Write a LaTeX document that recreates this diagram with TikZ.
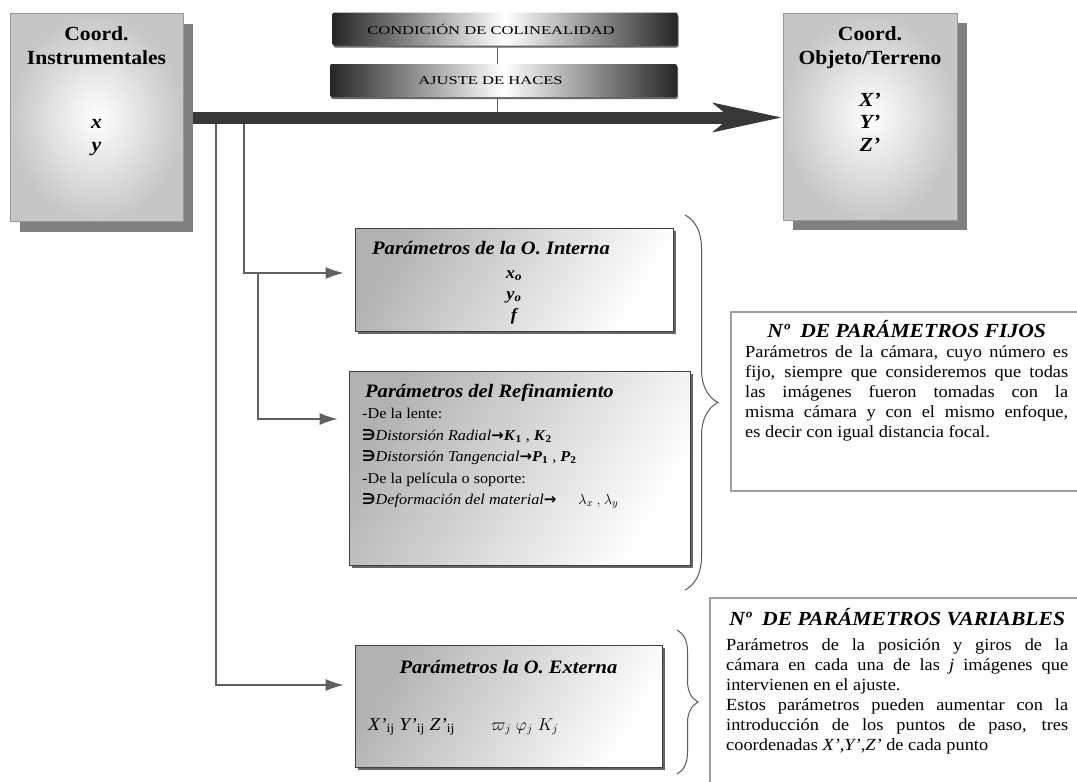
\documentclass[tikz,border=0pt]{standalone}
\usepackage{fontspec}
\setmainfont{Liberation Serif}[FakeStretch=1.08]
\newfontfamily\bannerfont{Liberation Serif}[FakeStretch=1.38]
\newfontfamily\symfont{DejaVu Sans}
\usetikzlibrary{arrows.meta,shadows,decorations.pathreplacing,positioning}
\newcommand{\hookmark}{{\symfont\bfseries ∋}}
\newcommand{\toarrow}{{\symfont\bfseries →}}
\tikzset{
  coordbox/.style={draw=gray!80, line width=0.8pt, inner color=white, outer color=gray!45,
    minimum width=173pt, minimum height=208pt,
    drop shadow={shadow xshift=10pt, shadow yshift=-10pt, fill=black!50, opacity=1}},
  banner/.style={rounded corners=2pt, left color=black!85, right color=black!85, middle color=white,
    minimum width=345pt, minimum height=33pt, inner sep=0pt, font=\bannerfont\fontsize{12}{14}\selectfont,
    drop shadow={shadow xshift=1pt, shadow yshift=-2pt, fill=black!60, opacity=1}},
  parambox/.style={draw=gray!50!black, line width=0.8pt, left color=gray!60, right color=white, shading angle=60,
    drop shadow={shadow xshift=3pt, shadow yshift=-3pt, fill=black!60, opacity=1}},
  notebox/.style={draw=gray!75, line width=1.6pt, fill=white, anchor=north west},
  branch/.style={draw=gray!75!black, line width=1.3pt, shorten >=11pt, -{Latex[length=18pt,width=12pt]}},
  thinline/.style={draw=gray!75!black, line width=1pt},
  mainarrow/.style={draw=black!78, line width=12pt, shorten <=10pt, -{Stealth[length=68pt,width=28pt,inset=16pt]}},
  curly/.style={draw=gray!70!black, line width=1pt, decorate, decoration={brace, amplitude=#1}},
  boxtitle/.style={font=\fontsize{20}{24.5}\selectfont\bfseries, align=center, anchor=north, inner sep=0pt},
  boxvar/.style={font=\fontsize{20}{23}\selectfont\bfseries\itshape, align=center, inner sep=0pt},
  partitle/.style={font=\fontsize{19}{22}\selectfont\bfseries\itshape, inner sep=0pt},
  notetext/.style={anchor=north west, inner sep=0pt, align=justify, font=\fontsize{17}{20}\selectfont}
}
\begin{document}
\begin{tikzpicture}[x=1pt, y=-1pt, >=latex]
    \useasboundingbox (0,0) rectangle (1077,782);
    \clip (0,0) rectangle (1077,782);

    \node[coordbox] (instr) at (96.5,117.5) {};
    \node[coordbox, minimum width=174pt, minimum height=207pt] (obj) at (870,116.5) {};
    \node[banner] (cond) at (505,29) {CONDICIÓN DE COLINEALIDAD\hspace*{28pt}};
    \node[banner, minimum width=347pt] (ajuste) at (503.5,80.5) {AJUSTE DE HACES\hspace*{26pt}};

    \node[parambox, minimum width=318pt, minimum height=103pt] (interna) at (514,279.5) {};
    \node[parambox, minimum width=341pt, minimum height=194pt] (refin) at (519.5,468) {};
    \node[parambox, minimum width=307pt, minimum height=122pt] (externa) at (508.5,706) {};

    \node[notebox, minimum width=360pt, minimum height=179pt] (fijosbox) at (730,311) {};
    \node[notebox, minimum width=380pt, minimum height=200pt] (varbox) at (709,597) {};

    \node[boxtitle] (instrtitle) at (96.5,26) {Coord.\\Instrumentales};
    \node[boxvar] (instrvar) at (96.5,138) {x\\y};
    \node[boxtitle] (objtitle) at (870,26) {Coord.\\Objeto/Terreno};
    \node[boxvar, font=\fontsize{20}{22.5}\selectfont\bfseries\itshape] (objvar) at (870,122) {X’\\Y’\\Z’};

    \node[partitle, anchor=north west] (internatitle) at (372,241) {Parámetros de la O. Interna};
    \node[font=\fontsize{17}{21}\selectfont\bfseries\itshape, align=center, inner sep=0pt] (internavar) at (514,297)
        {x\textsubscript{o}\\y\textsubscript{o}\\f};

    \node[partitle, anchor=north west] (refintitle) at (365,384) {Parámetros del Refinamiento};
    \node[font=\fontsize{15}{21.5}\selectfont, align=left, anchor=north west, inner sep=0pt] (refinbody) at (362,408)
        {-De la lente:\\
         \hookmark\textit{Distorsión Radial}\toarrow\textbf{\textit{K}\textsubscript{1}} , \textbf{\textit{K}\textsubscript{2}}\\
         \hookmark\textit{Distorsión Tangencial}\toarrow\textbf{\textit{P}\textsubscript{1}} , \textbf{\textit{P}\textsubscript{2}}\\
         -De la película o soporte:\\
         \hookmark\textit{Deformación del material}\toarrow\hspace{22pt}$\lambda_x \mathbin{,} \lambda_y$};

    \node[partitle] (externatitle) at (508.5,667) {Parámetros la O. Externa};
    \node[font=\fontsize{18}{22}\selectfont, anchor=west, inner sep=0pt] (externavar) at (368,727)
        {\textit{X’}\textsubscript{ij} \textit{Y’}\textsubscript{ij} \textit{Z’}\textsubscript{ij}\hspace{36pt}$\varpi_j\;\varphi_j\;K_j$};

    \node[notetext, text width=323pt] (fijos) at (745,320)
        {{\fontsize{20}{24}\selectfont\bfseries\itshape\centering Nº\ \ DE PARÁMETROS FIJOS\par}
         Parámetros de la cámara, cuyo número es\linebreak
         fijo, siempre que consideremos que todas\linebreak
         las imágenes fueron tomadas con la\linebreak
         misma cámara y con el mismo enfoque,\linebreak
         es decir con igual distancia focal.\par};
    \node[notetext, text width=342pt] (variables) at (726,608)
        {{\fontsize{20}{24}\selectfont\bfseries\itshape\centering Nº\ \ DE PARÁMETROS VARIABLES\par}
         \vspace{5pt}
         Parámetros de la posición y giros de la\linebreak
         cámara en cada una de las \textit{j} imágenes que\linebreak
         intervienen en el ajuste.\par
         Estos parámetros pueden aumentar con la\linebreak
         introducción de los puntos de paso, tres\linebreak
         coordenadas \textit{X’,Y’,Z’} de cada punto\par};

    \coordinate (b1) at (216,118);
    \coordinate (b2) at (244,118);
    \coordinate (j) at (258,273);
    \coordinate (a) at (497,118);
    \coordinate (brace1top) at (685,215);
    \coordinate (brace1bot) at (685,590);
    \coordinate (brace2top) at (677,630);
    \coordinate (brace2bot) at (677,774);

    \draw[thinline] ([xshift=-8pt]cond.south) -- ([xshift=-6.5pt]ajuste.north);
    \draw[thinline] (ajuste.south -| a) -- (a);
    \draw[branch] (b1) |- ([yshift=21pt]externa.west);
    \draw[branch] (b2) |- ([yshift=6.5pt]interna.west);
    \draw[branch] (j) |- ([yshift=49pt]refin.west);
    \draw[mainarrow] (instr.east) -- (instr.east -| obj.west);

    \draw[curly=33pt] (brace1top) -- (brace1bot);
    \draw[curly=21pt] (brace2top) -- (brace2bot);
\end{tikzpicture}
\end{document}
